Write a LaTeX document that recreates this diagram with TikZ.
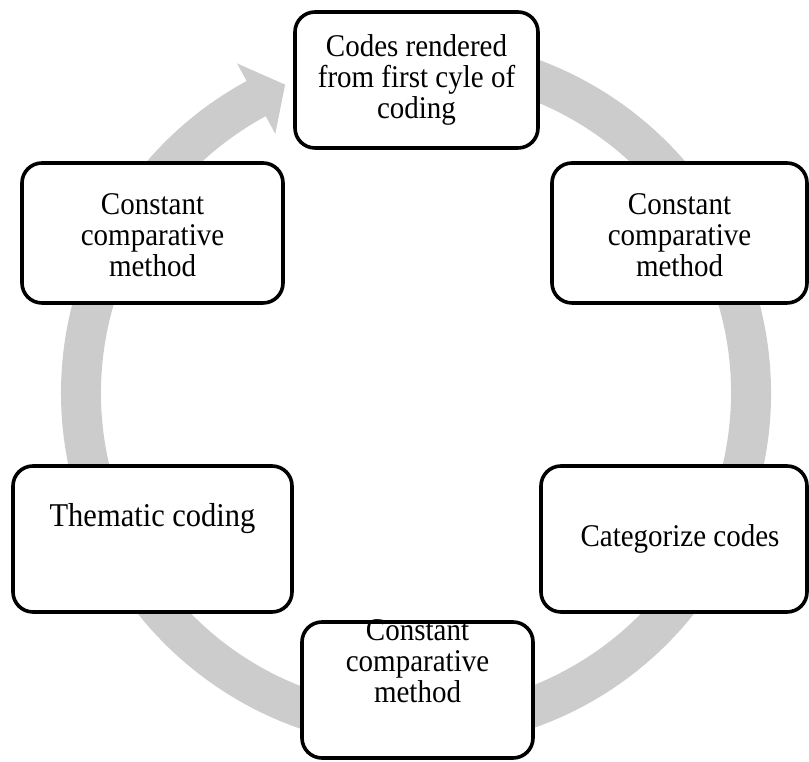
\documentclass[tikz,border=0pt]{standalone}
\usepackage{fontspec}
\setmainfont{Liberation Serif}
\definecolor{ringgray}{RGB}{204,204,204}
\begin{document}
\begin{tikzpicture}[x=1pt,y=1pt,
  box/.style={draw=black, line width=3.6pt, rounded corners=20pt, fill=white, inner sep=0pt},
  txt/.style={align=center, inner sep=0pt, font=\fontsize{29}{28.5}\selectfont},
  tall/.style={yscale=1.09, transform shape}]
\useasboundingbox (0,0) rectangle (809,762);
% circular arrow
\begin{scope}[shift={(416,369)}]
\fill[ringgray] (100:355) arc[start angle=100, end angle=-241.5, radius=355]
  -- (118.5:375) -- (113:335) -- (118.5:295) -- (118.5:315)
  arc[start angle=-241.5, end angle=100, radius=315] -- cycle;
\end{scope}
% boxes
\node[box, minimum width=243pt, minimum height=136pt] (top) at (416.5,682) {};
\node[box, minimum width=261pt, minimum height=140pt] (tl) at (152.5,529) {};
\node[box, minimum width=255pt, minimum height=140pt] (tr) at (679.5,529) {};
\node[box, minimum width=279pt, minimum height=146pt] (lf) at (152.5,223) {};
\node[box, minimum width=266pt, minimum height=146pt] (rt) at (674,223) {};
\node[box, minimum width=231pt, minimum height=136pt] (bt) at (417.5,72) {};
% texts
\begin{scope}[shift={(416.5,682)}, tall]
\node[txt] (ttop) at (0,0) {Codes rendered\\from first cyle of\\coding};
\end{scope}
\begin{scope}[shift={(152.5,527)}, tall]
\node[txt] (ttl) at (0,0) {Constant\\comparative\\method};
\end{scope}
\begin{scope}[shift={(679.5,527)}, tall]
\node[txt] (ttr) at (0,0) {Constant\\comparative\\method};
\end{scope}
\begin{scope}[shift={(152.5,235)}, tall]
\node[txt, anchor=base, font=\fontsize{30.5}{30}\selectfont] (tlf) at (0,0) {Thematic coding};
\end{scope}
\begin{scope}[shift={(680,215)}, tall]
\node[txt, anchor=base] (trt) at (0,0) {Categorize codes};
\end{scope}
\begin{scope}[shift={(417.5,101)}, tall]
\node[txt] (tbt) at (0,0) {Constant\\comparative\\method};
\end{scope}
\end{tikzpicture}
\end{document}
